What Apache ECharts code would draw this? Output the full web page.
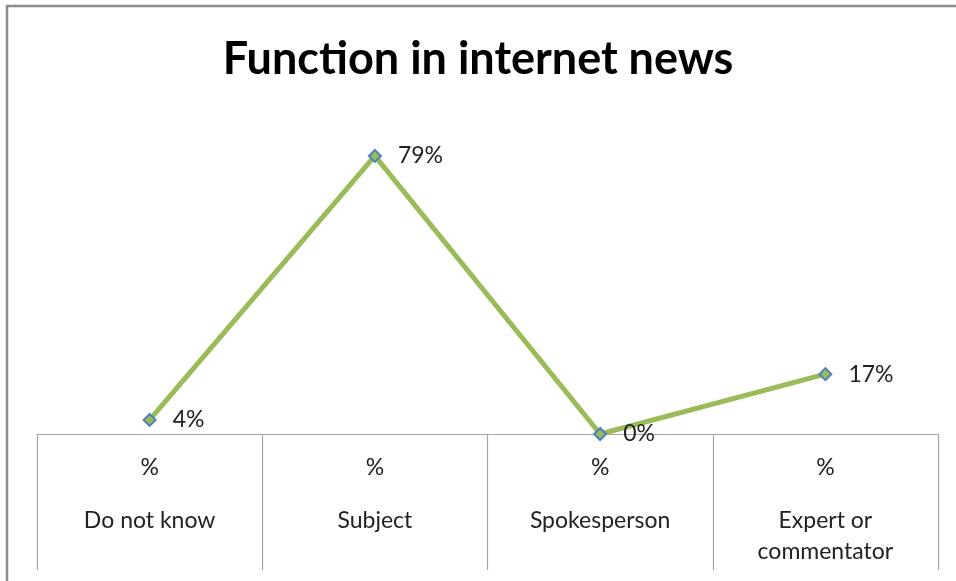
<!DOCTYPE html>
<html>
<head>
<meta charset="utf-8">
<style>
  html, body { margin: 0; padding: 0; background: #fff; }
  #chart { width: 956px; height: 581px; }
</style>
<script src="https://cdn.jsdelivr.net/npm/echarts@6/dist/echarts.min.js"></script>
</head>
<body>
<div id="chart"></div>
<script>
// Share of each function in internet news (fractions of 1)
const categories = ['Do not know', 'Subject', 'Spokesperson', 'Expert or commentator'];
const unitRow = ['%', '%', '%', '%'];
const shares = [0.04, 0.79, 0.00, 0.17];

const FONT = 'Lato, "Open Sans", sans-serif';

// break long category names onto two lines at the last space
function wrapName(name) {
  if (name.length <= 14) return name;
  const i = name.lastIndexOf(' ');
  return name.slice(0, i) + '\n' + name.slice(i + 1);
}

const chart = echarts.init(document.getElementById('chart'), null, { renderer: 'canvas' });

chart.setOption({
  animation: false,
  backgroundColor: '#ffffff',
  title: {
    text: 'Function in internet news',
    left: 'center',
    top: 32,
    textStyle: { fontFamily: FONT, fontSize: 45, fontWeight: 'bold', color: '#000' }
  },
  graphic: [
    {
      type: 'polyline',
      shape: { points: [[7, 700], [7, 6], [990, 6]] },
      style: { stroke: '#8c8c8c', lineWidth: 2.5, fill: null },
      silent: true
    }
  ],
  grid: { left: 37, right: 18, top: 82, bottom: 147 },
  xAxis: {
    type: 'category',
    data: categories,
    boundaryGap: true,
    axisLine: { show: true, lineStyle: { color: '#a6a6a6', width: 1.2 } },
    axisTick: { show: true, length: 136, lineStyle: { color: '#a6a6a6', width: 1.2 } },
    axisLabel: {
      margin: 12,
      interval: 0,
      formatter: function (value, idx) {
        return '{p|' + unitRow[idx] + '}\n{g| }\n{n|' + wrapName(value) + '}';
      },
      rich: {
        p: { fontFamily: FONT, fontSize: 23, color: '#222', lineHeight: 44, align: 'center' },
        g: { fontSize: 10, lineHeight: 15 },
        n: { fontFamily: FONT, fontSize: 23, color: '#222', lineHeight: 31, align: 'center' }
      }
    }
  },
  yAxis: {
    type: 'value',
    min: 0,
    max: 1,
    show: false,
    splitLine: { show: false }
  },
  series: [
    {
      type: 'line',
      data: shares,
      symbol: 'diamond',
      symbolSize: 12,
      lineStyle: { color: '#9bbb59', width: 5 },
      itemStyle: { color: '#9bbb59', borderColor: '#4f81bd', borderWidth: 2 },
      label: {
        show: true,
        position: 'right',
        distance: 16,
        fontFamily: FONT,
        fontSize: 23,
        color: '#222',
        formatter: function (p) { return Math.round(p.value * 100) + '%'; }
      }
    }
  ]
});
</script>
</body>
</html>
